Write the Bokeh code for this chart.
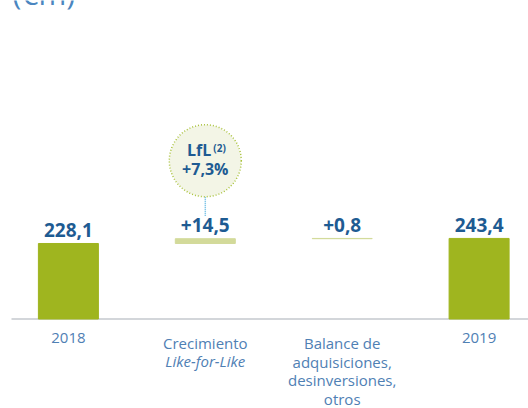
from bokeh.plotting import figure
from bokeh.models import Range1d, Label, ColumnDataSource
from bokeh.core.properties import value
from bokeh.embed import file_html
from bokeh.resources import INLINE

# ---- data ----
categories = ["2018", "Crecimiento", "Balance de\nadquisiciones,\ndesinversiones,\notros", "2019"]
category_italic = ["", "Like-for-Like", "", ""]
steps = [228.1, 14.5, 0.8, 243.4]
kinds = ["total", "delta", "delta", "total"]
value_labels = ["228,1", "+14,5", "+0,8", "243,4"]
lfl_label = "LfL"
lfl_sup = "(2)"
lfl_value = "+7,3%"
unit_title = "(€m)"

# ---- layout constants ----
W, H = 528, 408
PX_PER_CAT = 136.9      # horizontal pixels per category
FIRST_CAT_PX = 67.9     # pixel centre of first category
BASE_PX = 318.5         # pixel row of value 0
PX_PER_UNIT = 0.331     # vertical pixels per €m

x_start = -FIRST_CAT_PX / PX_PER_CAT
x_end = x_start + W / PX_PER_CAT
y_start = -(H - BASE_PX) / PX_PER_UNIT
y_end = BASE_PX / PX_PER_UNIT

# waterfall geometry from data
idx = list(range(len(categories)))
bottoms, tops = [], []
running = 0.0
for s, k in zip(steps, kinds):
    if k == "total":
        bottoms.append(0.0)
        tops.append(s)
        running = s
    else:
        bottoms.append(running)
        running = running + s
        tops.append(running)

BAR_GREEN = "#9fb51f"
LIGHT_GREEN = "#d3da9a"
colors = [BAR_GREEN if k == "total" else LIGHT_GREEN for k in kinds]

DARK_BLUE = "#1e5b92"
TEXT_BLUE = "#4f80b4"

p = figure(width=W, height=H,
           x_range=Range1d(x_start, x_end), y_range=Range1d(y_start, y_end),
           output_backend="svg", toolbar_location=None, min_border=0)
p.styles = {"position": "absolute", "left": "0px", "top": "0px", "margin": "0px"}
p.axis.visible = False
p.grid.visible = False
p.outline_line_color = None
p.background_fill_color = "white"
p.border_fill_color = "white"

# baseline
p.segment(x0=[x_start + 11 / PX_PER_CAT], x1=[x_end], y0=[0], y1=[0],
          line_color="#d3d6da", line_width=2)

src = ColumnDataSource(dict(x=idx, bottom=bottoms, top=tops, color=colors,
                            lab=value_labels, cat=categories, cat_it=category_italic))

p.vbar(x="x", width=60 / PX_PER_CAT, bottom="bottom", top="top",
       fill_color="color", line_color="color", line_width=1, source=src)

# value labels
p.text(x="x", y="top", text="lab", source=src, y_offset=-13.5,
       text_align="center", text_baseline="alphabetic",
       text_font=value("Open Sans"), text_font_style="bold",
       text_font_size="19px", text_color=DARK_BLUE)

# category labels
p.text(x="x", y=0, text="cat", source=src, y_offset=14,
       text_align="center", text_baseline="top",
       text_font=value("Open Sans"), text_font_size="15px",
       text_line_height=0.93, text_color=TEXT_BLUE)
p.text(x="x", y=0, text="cat_it", source=src, y_offset=32,
       text_align="center", text_baseline="top",
       text_font=value("Open Sans"), text_font_style="italic",
       text_font_size="15px", text_color=TEXT_BLUE)

# LfL bubble above the like-for-like bar
lfl_i = 1
bubble_y = tops[lfl_i] + 78 / PX_PER_UNIT
p.segment(x0=[lfl_i], x1=[lfl_i],
          y0=[tops[lfl_i] + 23 / PX_PER_UNIT], y1=[bubble_y - 36 / PX_PER_UNIT],
          line_color="#5ab4e0", line_width=1.5, line_dash="1 1")
p.circle(x=[lfl_i], y=[bubble_y], radius=36, radius_units="screen",
         fill_color="#f3f5e6", line_color="#a9c23c", line_width=1.5,
         line_dash="1 2")
p.text(x=[lfl_i], y=[bubble_y], text=[lfl_label], x_offset=6, y_offset=-11,
       text_align="right", text_baseline="alphabetic",
       text_font=value("Open Sans"), text_font_style="bold",
       text_font_size="16px", text_color=DARK_BLUE)
p.text(x=[lfl_i], y=[bubble_y], text=[lfl_sup], x_offset=8, y_offset=-12.5,
       text_align="left", text_baseline="alphabetic",
       text_font=value("Open Sans"), text_font_style="bold",
       text_font_size="10px", text_color=DARK_BLUE)
p.text(x=[lfl_i], y=[bubble_y], text=[lfl_value], y_offset=8,
       text_align="center", text_baseline="alphabetic",
       text_font=value("Open Sans"), text_font_style="bold",
       text_font_size="16px", text_color=DARK_BLUE)

# unit title (cut at the top edge)
p.add_layout(Label(x=12, y=H + 7, x_units="screen", y_units="screen",
                   text=unit_title, text_font="Open Sans",
                   text_font_size="30px", text_color="#4a86c0",
                   text_baseline="alphabetic"))

open("out.html", "w").write(file_html(p, INLINE))
